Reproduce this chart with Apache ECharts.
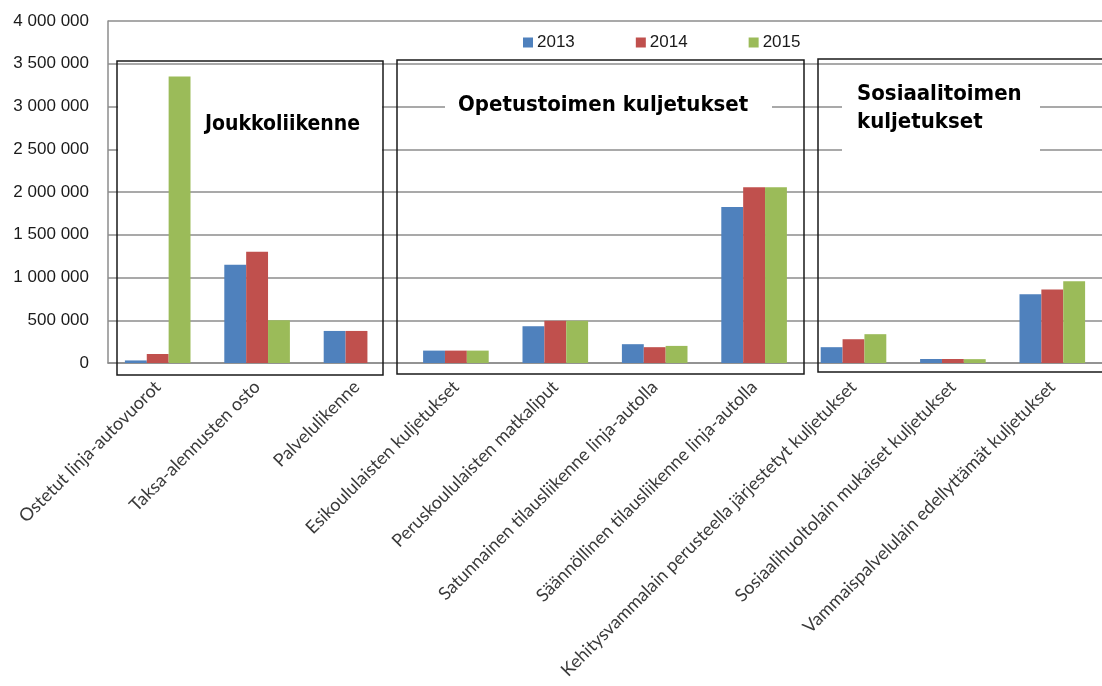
<!DOCTYPE html>
<html>
<head>
<meta charset="utf-8">
<style>
  html, body { margin: 0; padding: 0; background: #fff; }
  #chart { width: 1102px; height: 686px; }
</style>
<script src="https://cdn.jsdelivr.net/npm/echarts@6/dist/echarts.min.js"></script>
</head>
<body>
<div id="chart"></div>
<script>
// luokat (x-akseli)
var categories = [
  "Ostetut linja-autovuorot",
  "Taksa-alennusten osto",
  "Palvelulikenne",
  "Esikoululaisten kuljetukset",
  "Peruskoululaisten matkaliput",
  "Satunnainen tilausliikenne linja-autolla",
  "Säännöllinen tilausliikenne linja-autolla",
  "Kehitysvammalain perusteella järjestetyt kuljetukset",
  "Sosiaalihuoltolain mukaiset kuljetukset",
  "Vammaispalvelulain edellyttämät kuljetukset"
];
var years = ["2013", "2014", "2015"];
var values2013 = [30000, 1150000, 375000, 145000, 430000, 220000, 1825000, 185000, 47000, 805000];
var values2014 = [105000, 1300000, 375000, 145000, 495000, 185000, 2055000, 278000, 47000, 860000];
var values2015 = [3350000, 500000, 0, 145000, 495000, 200000, 2055000, 337000, 45000, 955000];
var yTicks = { min: 0, max: 4000000, interval: 500000 };

var colors = ["#4F81BD", "#C0504D", "#9BBB59"];

var myChart = echarts.init(document.getElementById("chart"));

function fmt(v) {
  return String(v).replace(/\B(?=(\d{3})+(?!\d))/g, " ");
}

var seriesData = [values2013, values2014, values2015];
var series = years.map(function (y, i) {
  return {
    name: y,
    type: "bar",
    data: seriesData[i],
    barGap: 0,
    barCategoryGap: "34%",
    itemStyle: { color: colors[i] },
    z: 3
  };
});

// ryhmien laatikot ja otsikot
var boxStyle = { fill: "none", stroke: "#1a1a1a", lineWidth: 1.5 };
var titleFont = "bold 22px 'DejaVu Sans Condensed', 'DejaVu Sans'";
var graphics = [
  // valkoiset taustat otsikoille (ruudukon päällä, pylväiden alla)
  { type: "rect", shape: { x: 118, y: 80, width: 264, height: 84 }, style: { fill: "#fff" }, z: 1 },
  { type: "rect", shape: { x: 445, y: 88, width: 327, height: 38 }, style: { fill: "#fff" }, z: 1 },
  { type: "rect", shape: { x: 842, y: 78, width: 198, height: 84 }, style: { fill: "#fff" }, z: 1 },
  // laatikot
  { type: "rect", shape: { x: 117, y: 61, width: 266, height: 314 }, style: boxStyle, z: 10 },
  { type: "rect", shape: { x: 397, y: 60, width: 407, height: 314 }, style: boxStyle, z: 10 },
  { type: "rect", shape: { x: 818, y: 59, width: 300, height: 313 }, style: boxStyle, z: 10 },
  // otsikot
  { type: "text", left: 205, top: 114, style: { text: "Joukkoliikenne", font: "bold 21px 'DejaVu Sans Condensed', 'DejaVu Sans'", fill: "#000" }, z: 11 },
  { type: "text", left: 458, top: 94, style: { text: "Opetustoimen kuljetukset", font: titleFont, fill: "#000" }, z: 11 },
  { type: "text", left: 857, top: 80, style: { text: "Sosiaalitoimen\nkuljetukset", font: titleFont, lineHeight: 28, fill: "#000" }, z: 11 }
];

var option = {
  animation: false,
  color: colors,
  legend: {
    data: years,
    left: 518,
    top: 29,
    icon: "rect",
    itemWidth: 10,
    itemHeight: 10,
    itemGap: 61,
    textStyle: { fontFamily: "Liberation Sans", fontSize: 17, color: "#1a1a1a", padding: [0, 0, 0, -1] }
  },
  grid: {
    left: 108,
    right: -6,
    top: 21,
    bottom: 323
  },
  xAxis: {
    type: "category",
    data: categories,
    axisLine: { lineStyle: { color: "#8c8c8c", width: 1.5 } },
    axisTick: { show: false },
    axisLabel: {
      interval: 0,
      rotate: 45,
      margin: 21,
      fontFamily: "Lato",
      fontSize: 18,
      color: "#3a3a3a"
    }
  },
  yAxis: {
    type: "value",
    min: yTicks.min,
    max: yTicks.max,
    interval: yTicks.interval,
    axisLine: { show: true, lineStyle: { color: "#8c8c8c", width: 1.5 } },
    axisTick: { show: false },
    splitLine: { lineStyle: { color: "#8c8c8c", width: 1.5 } },
    axisLabel: {
      margin: 19,
      fontFamily: "Liberation Sans",
      fontSize: 17,
      color: "#1a1a1a",
      formatter: fmt
    }
  },
  graphic: graphics,
  series: series
};

myChart.setOption(option);
window.addEventListener("resize", function () {
  myChart.resize();
});
</script>
</body>
</html>
